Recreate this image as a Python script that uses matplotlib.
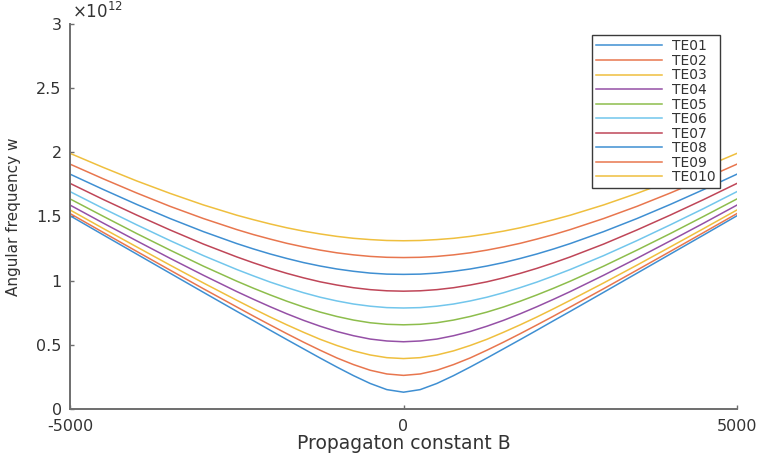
import matplotlib
matplotlib.use("Agg")
import matplotlib.pyplot as plt

plt.rcParams['font.family'] = ['DejaVu Sans']

# Propagation constant samples (denser near the cut-off region)
beta = [-5000, -4500, -4000, -3500, -3000, -2500, -2250, -2000, -1750, -1500,
        -1250, -1000, -750, -500, -250, 0, 250, 500, 750, 1000, 1250, 1500,
        1750, 2000, 2250, 2500, 3000, 3500, 4000, 4500, 5000]

# Angular frequency of each mode (units of 1e12 rad/s)
te01 = [1.506, 1.356, 1.207, 1.058, 0.909, 0.761, 0.688, 0.614, 0.541, 0.469,
        0.397, 0.327, 0.260, 0.199, 0.151, 0.131, 0.151, 0.199, 0.260, 0.327,
        0.397, 0.469, 0.541, 0.614, 0.688, 0.761, 0.909, 1.058, 1.207, 1.356, 1.506]
te02 = [1.523, 1.375, 1.228, 1.082, 0.937, 0.795, 0.724, 0.655, 0.587, 0.521,
        0.458, 0.398, 0.346, 0.302, 0.273, 0.262, 0.273, 0.302, 0.346, 0.398,
        0.458, 0.521, 0.587, 0.655, 0.724, 0.795, 0.937, 1.082, 1.228, 1.375, 1.523]
te03 = [1.551, 1.406, 1.263, 1.121, 0.982, 0.847, 0.781, 0.717, 0.656, 0.598,
        0.543, 0.495, 0.453, 0.421, 0.400, 0.393, 0.400, 0.421, 0.453, 0.495,
        0.543, 0.598, 0.656, 0.717, 0.781, 0.847, 0.982, 1.121, 1.263, 1.406, 1.551]
te04 = [1.589, 1.448, 1.310, 1.174, 1.042, 0.915, 0.855, 0.797, 0.742, 0.691,
        0.645, 0.604, 0.571, 0.545, 0.530, 0.524, 0.530, 0.545, 0.571, 0.604,
        0.645, 0.691, 0.742, 0.797, 0.855, 0.915, 1.042, 1.174, 1.310, 1.448, 1.589]
te05 = [1.637, 1.501, 1.367, 1.238, 1.113, 0.996, 0.941, 0.889, 0.840, 0.795,
        0.755, 0.721, 0.693, 0.672, 0.660, 0.656, 0.660, 0.672, 0.693, 0.721,
        0.755, 0.795, 0.840, 0.889, 0.941, 0.996, 1.113, 1.238, 1.367, 1.501, 1.637]
te06 = [1.694, 1.562, 1.435, 1.312, 1.195, 1.087, 1.037, 0.989, 0.946, 0.906,
        0.871, 0.842, 0.818, 0.801, 0.790, 0.787, 0.790, 0.801, 0.818, 0.842,
        0.871, 0.906, 0.946, 0.989, 1.037, 1.087, 1.195, 1.312, 1.435, 1.562, 1.694]
te07 = [1.758, 1.632, 1.511, 1.395, 1.285, 1.185, 1.139, 1.096, 1.057, 1.022,
        0.991, 0.966, 0.945, 0.930, 0.921, 0.918, 0.921, 0.930, 0.945, 0.966,
        0.991, 1.022, 1.057, 1.096, 1.139, 1.185, 1.285, 1.395, 1.511, 1.632, 1.758]
te08 = [1.830, 1.710, 1.594, 1.484, 1.382, 1.289, 1.247, 1.208, 1.173, 1.141,
        1.114, 1.091, 1.073, 1.059, 1.051, 1.049, 1.051, 1.059, 1.073, 1.091,
        1.114, 1.141, 1.173, 1.208, 1.247, 1.289, 1.382, 1.484, 1.594, 1.710, 1.830]
te09 = [1.908, 1.793, 1.683, 1.579, 1.484, 1.398, 1.359, 1.324, 1.291, 1.263,
        1.238, 1.217, 1.201, 1.189, 1.182, 1.180, 1.182, 1.189, 1.201, 1.217,
        1.238, 1.263, 1.291, 1.324, 1.359, 1.398, 1.484, 1.579, 1.683, 1.793, 1.908]
te010 = [1.992, 1.882, 1.777, 1.680, 1.590, 1.510, 1.475, 1.442, 1.412, 1.386,
         1.364, 1.345, 1.330, 1.320, 1.313, 1.311, 1.313, 1.320, 1.330, 1.345,
         1.364, 1.386, 1.412, 1.442, 1.475, 1.510, 1.590, 1.680, 1.777, 1.882, 1.992]

mode_names = ["TE01", "TE02", "TE03", "TE04", "TE05",
              "TE06", "TE07", "TE08", "TE09", "TE010"]
mode_values = [te01, te02, te03, te04, te05, te06, te07, te08, te09, te010]

x_ticks = [-5000, 0, 5000]
x_tick_labels = ["-5000", "0", "5000"]
y_ticks = [0, 0.5, 1, 1.5, 2, 2.5, 3]
y_tick_labels = ["0", "0.5", "1", "1.5", "2", "2.5", "3"]

colors = ["#3f8fd2", "#e8764e", "#efbf3e", "#9550a6", "#8dbd4c",
          "#72c6ec", "#bf4658", "#3f8fd2", "#e8764e", "#efbf3e"]

axis_color = "#6e6e6e"
text_color = "#333333"

fig = plt.figure(figsize=(7.62, 4.55), dpi=100)
ax = fig.add_axes([0.0919, 0.1011, 0.8753, 0.8462])

for name, vals, c in zip(mode_names, mode_values, colors):
    ax.plot(beta, vals, color=c, lw=1.1, label=name)

ax.set_xlim(-5000, 5000)
ax.set_ylim(0, 3)
ax.set_xticks(x_ticks)
ax.set_xticklabels(x_tick_labels)
ax.set_yticks(y_ticks)
ax.set_yticklabels(y_tick_labels)

for side in ("top", "right"):
    ax.spines[side].set_visible(False)
for side in ("left", "bottom"):
    ax.spines[side].set_color(axis_color)
    ax.spines[side].set_linewidth(1.4)

ax.tick_params(axis="both", direction="in", length=3, width=1,
               color=axis_color, labelcolor=text_color, labelsize=11.5)
ax.tick_params(axis="y", pad=6)
ax.tick_params(axis="x", pad=7)

ax.set_xlabel("Propagaton constant B", fontsize=13.5, color=text_color, labelpad=0)
ax.set_ylabel("Angular frequency w", fontsize=11, color=text_color, labelpad=11)

ax.text(0.003, 1.016, r"$\times$10$^{12}$", transform=ax.transAxes,
        fontsize=12, color=text_color, ha="left", va="baseline")

leg = ax.legend(loc="upper right", bbox_to_anchor=(0.9745, 0.971),
                borderaxespad=0, fontsize=10, handlelength=4.8,
                handletextpad=0.7, labelspacing=0.04, borderpad=0.3,
                fancybox=False, framealpha=1)
leg.get_frame().set_edgecolor("#3a3a3a")
leg.get_frame().set_linewidth(1.0)
for t in leg.get_texts():
    t.set_color(text_color)

fig.savefig("out.png", dpi=100)
